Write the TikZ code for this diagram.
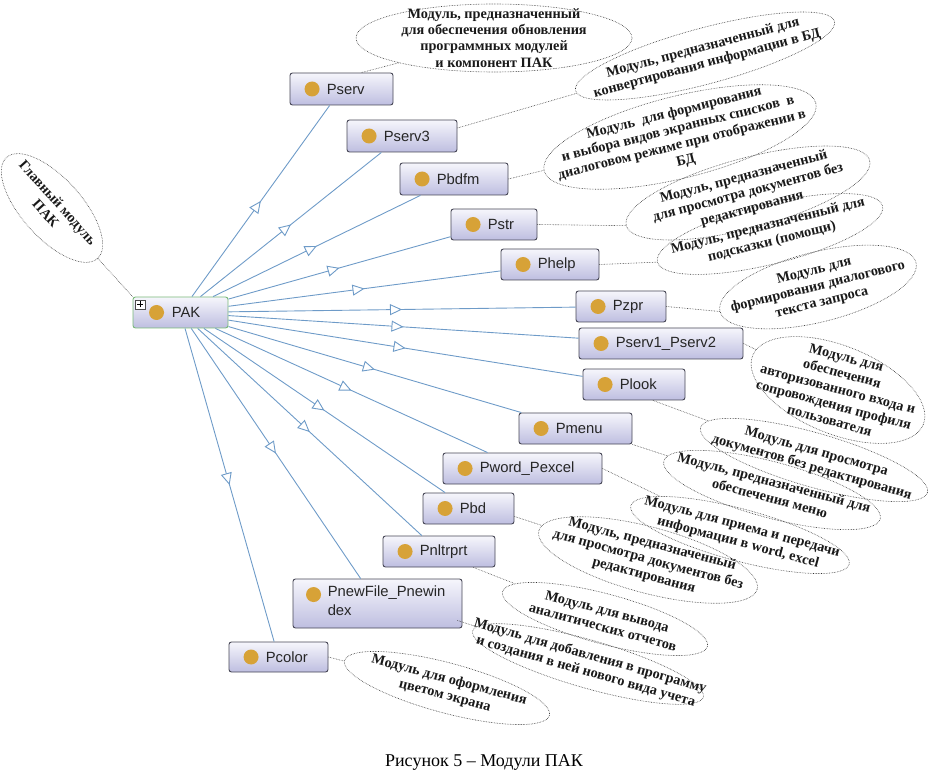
\documentclass[tikz,border=0pt]{standalone}
\usepackage{fontspec}
\setmainfont{Liberation Serif}
\newfontfamily\sansf{Liberation Sans}
\usetikzlibrary{arrows.meta,decorations.markings,shapes.geometric}
\definecolor{edgeblue}{RGB}{110,155,200}
\definecolor{gold}{RGB}{215,162,55}
\definecolor{boxtop}{RGB}{246,246,252}
\definecolor{boxbot}{RGB}{190,190,224}
\definecolor{boxline}{RGB}{70,70,85}
\definecolor{pakline}{RGB}{120,185,120}
\tikzset{
 modbox/.style={rectangle, rounded corners=2.5pt, draw=boxline, line width=0.9pt, top color=boxtop, bottom color=boxbot, inner sep=0pt},
 modtext/.style={font=\sansf\fontsize{14.8}{19}\selectfont, inner sep=0pt, anchor=west, text=black!85, align=left},
 noteell/.style={ellipse, draw=black!80, densely dotted, line width=0.6pt, inner sep=0pt},
 notetext/.style={font=\bfseries\fontsize{14.3}{16.3}\selectfont, align=center, inner sep=0pt, text=black!90},
 notelink/.style={draw=black!75, densely dotted, line width=0.6pt},
 link/.style={color=edgeblue, line width=0.9pt, postaction={decorate},
   decoration={markings, mark=at position 0.5 with {\arrow{Triangle[length=12pt,width=11pt,fill=white,line width=0.9pt]}}}},
}
\newcommand\modnode[6]{%
 \node[modbox, minimum width=#4pt, minimum height=#5pt] (#1) at (#2,#3) {};
 \fill[gold] ([xshift=22.5pt]#1.west) circle (7.5pt);
 \node[modtext] (#1t) at ([xshift=37pt]#1.west) {#6};
}
\newcommand\anote[7]{%
 \node[noteell, minimum width=#5pt, minimum height=#6pt, rotate=#4] (#1) at (#2,#3) {};
 \node[notetext, rotate=#4] (#1t) at (#2,#3) {#7};
}
\begin{document}
\begin{tikzpicture}[x=1pt,y=-1pt]
\useasboundingbox (0,0) rectangle (929,775);
% main node
\node[modbox, draw=pakline, minimum width=95pt, minimum height=31pt] (pak) at (180.5,312.5) {};
\fill[gold] ([xshift=24pt]pak.west) circle (7.5pt);
\node[modtext] (pakt) at ([xshift=39pt]pak.west) {PAK};
\node[draw=black!70, fill=white, minimum width=10pt, minimum height=9pt, inner sep=0pt] (plus) at (140,304.5) {};
\draw[black, line width=0.7pt] ([xshift=-3pt]plus.center) -- ([xshift=3pt]plus.center)
  ([yshift=-3pt]plus.center) -- ([yshift=3pt]plus.center);
% modules
\modnode{pserv}{341.5}{89}{103}{32}{Pserv}
\modnode{pserv3}{402}{136}{110}{32}{Pserv3}
\modnode{pbdfm}{454}{179}{108}{32}{Pbdfm}
\modnode{pstr}{494}{224.5}{86}{31}{Pstr}
\modnode{phelp}{550}{264.5}{98}{31}{Phelp}
\modnode{pzpr}{621}{306.5}{90}{31}{Pzpr}
\modnode{pservx}{661}{343.5}{164}{31}{Pserv1\_Pserv2}
\modnode{plook}{634}{384.5}{102}{31}{Plook}
\modnode{pmenu}{575.5}{428.5}{113}{31}{Pmenu}
\modnode{pword}{522.5}{468.5}{159}{31}{Pword\_Pexcel}
\modnode{pbd}{468.5}{508.5}{91}{31}{Pbd}
\modnode{pnl}{439}{551.5}{112}{31}{Pnltrprt}
\node[modbox, minimum width=169pt, minimum height=49pt] (pnew) at (377.5,603.5) {};
\fill[gold] ([xshift=21pt,yshift=-16pt]pnew.north west) circle (7.5pt);
\node[modtext, anchor=north west] (pnewt) at ([xshift=35pt,yshift=-7pt]pnew.north west) {PnewFile\_Pnewin\\dex};
\modnode{pcolor}{278.5}{657}{99}{30}{Pcolor}
% edges
\foreach \n in {pserv,pserv3,pbdfm,pstr,phelp,pzpr,pservx,plook,pmenu,pword,pbd,pnl,pnew,pcolor}
  \draw[link] (pak) -- (\n);
% notes
\anote{e0}{52}{208}{-48}{136}{60}{Главный модуль\\ПАК}
\anote{e1}{494}{38}{0}{276}{68}{Модуль, предназначенный\\для обеспечения обновления\\программных модулей\\и компонент ПАК}
\anote{e2}{705}{56}{15}{268}{56}{Модуль, предназначенный для\\конвертирования информации в БД}
\anote{e3}{680}{137}{14}{280}{82}{Модуль~ для формирования\\и выбора видов экранных списков~ в\\диалоговом режиме при отображении в\\БД}
\anote{e4}{748}{193}{15}{252}{70}{Модуль, предназначенный\\для просмотра документов без\\редактирования}
\anote{e5}{770}{234}{14}{232}{60}{Модуль, предназначенный для\\подсказки (помощи)}
\anote{e6}{818}{287}{14}{202}{70}{Модуль для\\формирования диалогового\\текста запроса}
\node[noteell, minimum width=184pt, minimum height=88pt, rotate=-22] (e7) at (838,390) {};
\node[notetext, rotate=-15] (e7t) at (838,389) {Модуль для\\обеспечения\\авторизованного входа и\\сопровождения профиля\\пользователя};
\anote{e8}{814}{460}{-16}{236}{54}{Модуль для просмотра\\документов без редактирования}
\anote{e9}{772}{490}{-15}{224}{56}{Модуль, предназначенный для\\обеспечения меню}
\anote{e10}{740}{535}{-15}{226}{52}{Модуль для приема и передачи\\информации в word, excel}
\anote{e11}{648}{560}{-15}{226}{66}{Модуль, предназначенный\\для просмотра документов без\\редактирования}
\anote{e12}{605}{619}{-15}{212}{50}{Модуль для вывода\\аналитических отчетов}
\anote{e13}{588}{664}{-16}{240}{48}{Модуль для добавления в программу\\и создания в ней нового вида учета}
\anote{e14}{447}{688}{-15}{212}{50}{Модуль для оформления\\цветом экрана}
% note links
\draw[notelink] (e0) -- (pak.north west);
\draw[notelink] (e1) -- ([xshift=20pt]pserv.north);
\draw[notelink] ([yshift=8pt]pserv3.east) -- (e2);
\draw[notelink] (pbdfm.east) -- (e3);
\draw[notelink] (pstr.east) -- (e4.west);
\draw[notelink] (phelp.east) -- (e5.west);
\draw[notelink] (pzpr.east) -- (e6.west);
\draw[notelink] (pservx.east) -- (e7);
\draw[notelink] ([xshift=19pt]plook.south) -- (e8);
\draw[notelink] (pmenu.south east) -- (e9);
\draw[notelink] (pword.east) -- (e10);
\draw[notelink] ([yshift=-8pt]pbd.east) -- (e11);
\draw[notelink] ([xshift=-22pt]pnl.south east) -- (e12);
\draw[notelink] ([xshift=-5pt,yshift=8pt]pnew.south east) -- (e13);
\draw[notelink] (pcolor.east) -- (e14);
% caption
\node[font=\fontsize{18}{20}\selectfont, inner sep=0pt] (cap) at (484,762) {Рисунок 5 – Модули ПАК};
\end{tikzpicture}
\end{document}
